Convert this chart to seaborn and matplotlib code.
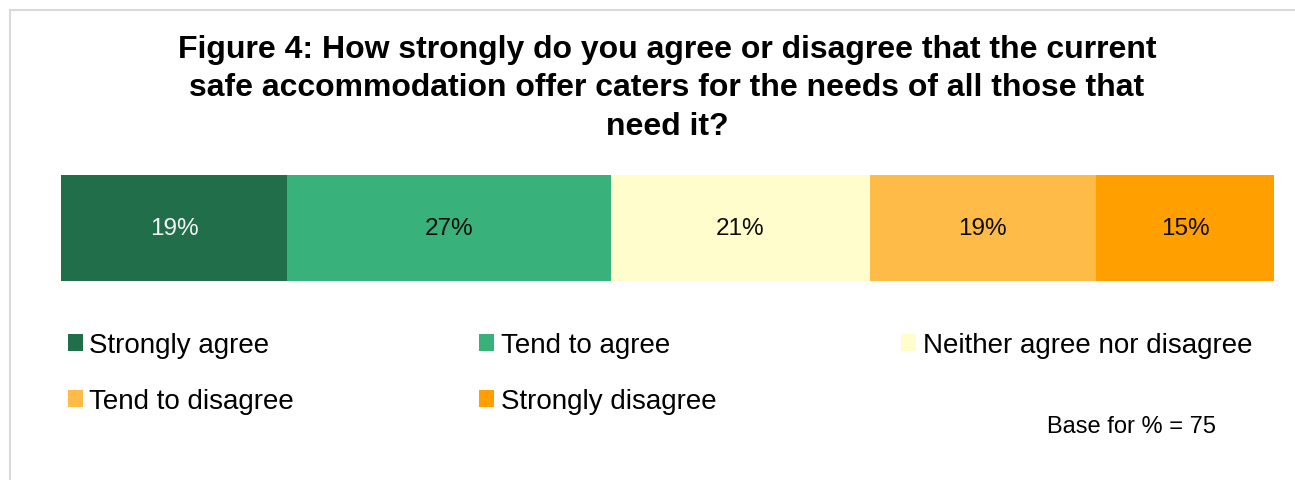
import matplotlib
matplotlib.use("Agg")
import matplotlib.pyplot as plt
import seaborn as sns
import numpy as np
from matplotlib.patches import Patch, Rectangle

# ---- data ----
categories = ["Strongly agree", "Tend to agree", "Neither agree nor disagree",
              "Tend to disagree", "Strongly disagree"]
counts = [14, 20, 16, 14, 11]          # respondents (base = 75)
base = 75
colors = ["#216E4A", "#38B27A", "#FFFDCC", "#FFBB47", "#FF9F00"]
label_colors = ["#F2F2F2", "#0D0D0D", "#0D0D0D", "#0D0D0D", "#0D0D0D"]
title = ("Figure 4: How strongly do you agree or disagree that the current\n"
         "safe accommodation offer caters for the needs of all those that\n"
         "need it?")
base_note = "Base for % = 75"

sns.set_theme(style="white")
plt.rcParams["font.family"] = ["Liberation Sans", "DejaVu Sans"]
plt.rcParams["text.color"] = "black"

W, H = 1295, 481
fig = plt.figure(figsize=(W / 100, H / 100), dpi=100)
fig.patch.set_facecolor("white")

# outer border (light grey, partially cropped)
fig.add_artist(Rectangle((10 / W, -0.1), 1.2, (H - 11) / H + 0.1,
                         transform=fig.transFigure, fill=False,
                         edgecolor="#D9D9D9", linewidth=1.5))

ax = fig.add_axes([61 / W, (H - 281.5) / H, 1213 / W, 105.5 / H])

cum = np.cumsum(counts)
# draw cumulative bars from longest to shortest so they stack visually
for i in reversed(range(len(counts))):
    sns.barplot(x=[cum[i]], y=["Q"], color=colors[i], width=1.0,
                saturation=1, ax=ax, orient="h", linewidth=0)

ax.set_xlim(0, base)
ax.set_ylim(0.5, -0.5)
ax.axis("off")

starts = np.concatenate([[0], cum[:-1]])
for s, c, lc in zip(starts, counts, label_colors):
    pct = int(round(c / base * 100))
    ax.text(s + c / 2, 0, f"{pct}%", ha="center", va="center",
            fontsize=17.5, color=lc)

fig.text(667 / W, 1 - 35 / H, title, ha="center", va="top",
         fontsize=23, fontweight="bold", color="black", linespacing=1.36)

handles = [Patch(facecolor=c, edgecolor="none", label=l)
           for c, l in zip(colors, categories)]
# matplotlib fills legend columns top-to-bottom; reorder to read row-wise
order = [0, 3, 1, 4, 2]
fig.legend(handles=[handles[i] for i in order], ncol=3, loc="upper left",
           bbox_to_anchor=(68 / W, 1 - 333 / H), frameon=False,
           fontsize=20, handlelength=0.55, handleheight=0.55,
           handletextpad=0.22, columnspacing=6.66, labelspacing=1.08,
           borderpad=0, borderaxespad=0, labelcolor="black")

fig.text(1216 / W, 1 - 427 / H, base_note, ha="right", va="center",
         fontsize=17, color="black")

fig.savefig("out.png", dpi=100, facecolor="white")
